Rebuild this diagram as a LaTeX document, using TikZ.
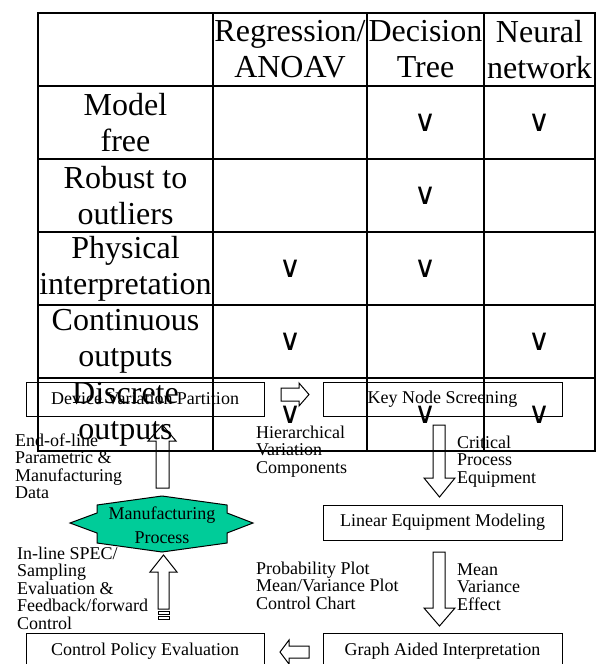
\documentclass[tikz,border=0pt]{standalone}
\usepackage{fontspec}
\setmainfont{Liberation Serif}
\newfontfamily\symfont{DejaVu Sans}
\definecolor{procgreen}{RGB}{0,204,153}
\begin{document}
\begin{tikzpicture}[x=1pt,y=-1pt,
  gridline/.style={line width=1.8pt, line cap=rect},
  cell/.style={font=\fontsize{32}{36}\selectfont, align=center, inner sep=0pt},
  tick/.style={font=\symfont\fontsize{30}{30}\selectfont, inner sep=0pt},
  stage/.style={draw, line width=1pt, minimum width=238pt, minimum height=34pt,
                inner sep=0pt, font=\fontsize{18}{20}\selectfont},
  note/.style={font=\fontsize{18}{17.5}\selectfont, align=left, inner sep=0pt, anchor=base west},
  blockarrow/.style={draw, line width=1pt, line join=miter},
]
\useasboundingbox (0,0) rectangle (600,664);
\clip (0,0) rectangle (600,664);

% ---------- comparison table ----------
\foreach \y in {13,86,159,232,305,378,451} \draw[gridline] (38,\y) -- (595,\y);
\foreach \x in {38,213,367,484,595} \draw[gridline] (\x,13) -- (\x,451);

\node[cell] (hreg) at (290,49.5)   {Regression/\\ANOAV};
\node[cell] (hdec) at (425.5,49.5) {Decision\\Tree};
\node[cell] (hnn)  at (539.5,49.5) {Neural\\network};

\node[cell] (rmod)  at (125.5,122.5) {Model\\free};
\node[cell] (rrob)  at (125.5,195.5) {Robust to\\outliers};
\node[cell] (rphy)  at (125.5,268.5) {Physical\\interpretation};
\node[cell] (rcont) at (125.5,341.5) {Continuous\\outputs};
\node[cell] (rdisc) at (125.5,414.5) {Discrete\\outputs};

\node[tick] (t12) at (425.5,122.5) {∨};
\node[tick] (t13) at (539.5,122.5) {∨};
\node[tick] (t22) at (425.5,195.5) {∨};
\node[tick] (t31) at (290,268.5)   {∨};
\node[tick] (t32) at (425.5,268.5) {∨};
\node[tick] (t41) at (290,341.5)   {∨};
\node[tick] (t43) at (539.5,341.5) {∨};
\node[tick] (t51) at (290,414.5)   {∨};
\node[tick] (t52) at (425.5,414.5) {∨};
\node[tick] (t53) at (539.5,414.5) {∨};

% ---------- process flow ----------
\node[stage] (dvp) at (145,399)     {Device Variation Partition};
\node[stage, minimum width=239pt] (kns) at (442.5,399) {Key Node Screening};
\node[stage, minimum width=239pt, minimum height=35pt] (lem) at (442.5,522.5) {Linear Equipment Modeling};
\node[stage, minimum width=239pt, minimum height=37pt] (gai) at (442.5,651.5) {Graph Aided Interpretation};
\node[stage, minimum height=37pt] (cpe) at (145,651.5) {Control Policy Evaluation};

% manufacturing process star
\draw[line width=1pt, fill=procgreen, line join=miter]
  (97,505) -- (162,496) -- (227,505) -- (227,513) -- (253,523) -- (227,533)
  -- (227,543) -- (162,552) -- (97,543) -- (97,533) -- (70,523) -- (97,513) -- cycle;
\node[font=\fontsize{18}{24}\selectfont, align=center, inner sep=0pt] (mp) at (162,525)
  {Manufacturing\\Process};

% block arrows
\draw[blockarrow] (281,388) -- (299,388) -- (299,383) -- (309,394.5)
  -- (299,406) -- (299,401) -- (281,401) -- cycle;
\draw[blockarrow] (433,425) -- (445,425) -- (445,478) -- (455,478) -- (439.5,497)
  -- (424,478) -- (433,478) -- cycle;
\draw[blockarrow] (433,552) -- (445,552) -- (445,608) -- (455,608) -- (439.5,626)
  -- (424,608) -- (433,608) -- cycle;
\draw[blockarrow] (156,488) -- (156,441) -- (148,441) -- (162.5,425) -- (176,441)
  -- (169,441) -- (169,488) -- cycle;
\draw[blockarrow] (158,609) -- (158,572) -- (150,572) -- (163.5,555) -- (177,572)
  -- (169,572) -- (169,609) -- cycle;
\draw[blockarrow] (158,611) rectangle (169,614);
\draw[blockarrow] (158,616) rectangle (169,619);
\draw[blockarrow] (309,646) -- (289,646) -- (289,640) -- (280,652) -- (289,664)
  -- (289,658) -- (309,658) -- cycle;

% labels (anchored at the baseline of their last line)
\node[note] (l1) at (15,498.5) {End-of-line\\Parametric \&\\Manufacturing\\Data};
\node[note] (l2) at (256,473)  {Hierarchical\\Variation\\Components};
\node[note] (l3) at (457,483)  {Critical\\Process\\Equipment};
\node[note] (l4) at (17,629)   {In-line SPEC/\\Sampling\\Evaluation \&\\Feedback/forward\\Control};
\node[note] (l5) at (256,609)  {Probability Plot\\Mean/Variance Plot\\Control Chart};
\node[note] (l6) at (457,610)  {Mean\\Variance\\Effect};
\end{tikzpicture}
\end{document}
